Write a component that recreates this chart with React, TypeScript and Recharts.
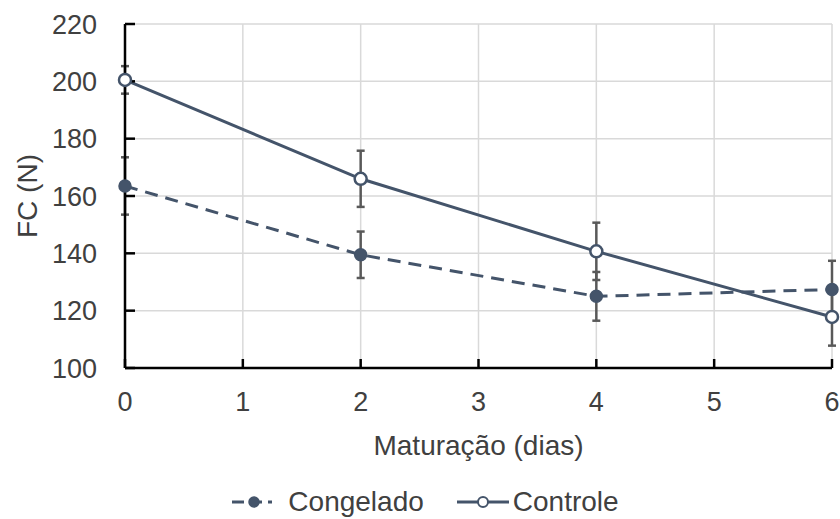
import React from 'react'
import { LineChart, Line, XAxis, YAxis, CartesianGrid, ErrorBar, Legend, Label } from 'recharts'

// dias de maturação e médias de FC (N) com desvio
const dias = [0, 2, 4, 6]
const congelado = [163.5, 139.5, 125.0, 127.4]
const congeladoErro = [10.0, 8.1, 8.5, 10.0]
const controle = [200.5, 166.0, 140.7, 117.8]
const controleErro = [4.8, 9.8, 10.0, 10.0]

const xTicks = [0, 1, 2, 3, 4, 5, 6]
const yTicks = [100, 120, 140, 160, 180, 200, 220]

const COR = '#44546A'
const TEXTO = '#404040'
const FONTE = '"Liberation Sans", Arial, sans-serif'

const data = dias.map((dia, i) => ({
    dia,
    congelado: congelado[i],
    congeladoErro: congeladoErro[i],
    controle: controle[i],
    controleErro: controleErro[i],
}))

function Legenda() {
    return (
        <div
            style={{
                display: 'flex',
                justifyContent: 'center',
                alignItems: 'center',
                height: 34,
                lineHeight: '34px',
                paddingLeft: 11,
                fontFamily: FONTE,
                fontSize: 28,
                color: TEXTO,
            }}
        >
            <svg width={40} height={24} style={{ display: 'block' }}>
                <line x1={0} y1={12} x2={40} y2={12} stroke={COR} strokeWidth={3} strokeDasharray="12 6" />
                <circle cx={22} cy={12} r={5} fill={COR} stroke={COR} strokeWidth={1.5} />
            </svg>
            <span style={{ marginLeft: 16 }}>Congelado</span>
            <svg width={52} height={24} style={{ display: 'block', marginLeft: 33 }}>
                <line x1={0} y1={12} x2={52} y2={12} stroke={COR} strokeWidth={3} />
                <circle cx={26} cy={12} r={5} fill="#fff" stroke={COR} strokeWidth={2} />
            </svg>
            <span style={{ marginLeft: 4 }}>Controle</span>
        </div>
    )
}

export default function App() {
    const eixo = { stroke: '#000', strokeWidth: 2.5 }
    const tick = { fill: TEXTO, fontSize: 27, fontFamily: FONTE }

    return (
        <div style={{ position: 'absolute', left: 0, top: 0, width: 840, height: 519, background: '#fff' }}>
            <LineChart width={840} height={519} data={data} margin={{ top: 24, right: 8, bottom: 0, left: 0 }}>
                <CartesianGrid stroke="#d9d9d9" strokeWidth={1.5} />
                <XAxis
                    dataKey="dia"
                    type="number"
                    domain={[0, 6]}
                    ticks={xTicks}
                    interval={0}
                    height={117}
                    axisLine={eixo}
                    tickLine={eixo}
                    tickSize={-9}
                    tickMargin={33}
                    tick={tick}
                >
                    <Label
                        content={({ viewBox }: any) => (
                            <text
                                x={viewBox.x + viewBox.width / 2}
                                y={viewBox.y + 77}
                                textAnchor="middle"
                                dominantBaseline="central"
                                fill={TEXTO}
                                fontSize={28}
                                fontFamily={FONTE}
                            >
                                Maturação (dias)
                            </text>
                        )}
                    />
                </XAxis>
                <YAxis
                    type="number"
                    domain={[100, 220]}
                    ticks={yTicks}
                    interval={0}
                    width={125}
                    axisLine={eixo}
                    tickLine={eixo}
                    tickSize={-10}
                    tickMargin={38}
                    tick={tick}
                >
                    <Label
                        content={({ viewBox }: any) => {
                            const cx = viewBox.x + 27.5
                            const cy = viewBox.y + viewBox.height / 2
                            return (
                                <text
                                    x={cx}
                                    y={cy}
                                    transform={`rotate(-90 ${cx} ${cy})`}
                                    textAnchor="middle"
                                    dominantBaseline="central"
                                    fill={TEXTO}
                                    fontSize={28}
                                    fontFamily={FONTE}
                                >
                                    FC (N)
                                </text>
                            )
                        }}
                    />
                </YAxis>
                <Legend verticalAlign="bottom" content={<Legenda />} wrapperStyle={{ left: 0, width: 840 }} />
                <Line
                    dataKey="congelado"
                    name="Congelado"
                    stroke={COR}
                    strokeWidth={3}
                    strokeDasharray="13 8"
                    dot={{ r: 6, fill: COR, stroke: COR, strokeWidth: 1.5, strokeDasharray: '' }}
                    activeDot={false}
                    isAnimationActive={false}
                >
                    <ErrorBar dataKey="congeladoErro" direction="y" width={4} stroke="#595959" strokeWidth={2.5} isAnimationActive={false} />
                </Line>
                <Line
                    dataKey="controle"
                    name="Controle"
                    stroke={COR}
                    strokeWidth={3}
                    dot={{ r: 6, fill: '#fff', stroke: COR, strokeWidth: 2.5 }}
                    activeDot={false}
                    isAnimationActive={false}
                >
                    <ErrorBar dataKey="controleErro" direction="y" width={4} stroke="#595959" strokeWidth={2.5} isAnimationActive={false} />
                </Line>
            </LineChart>
        </div>
    )
}
